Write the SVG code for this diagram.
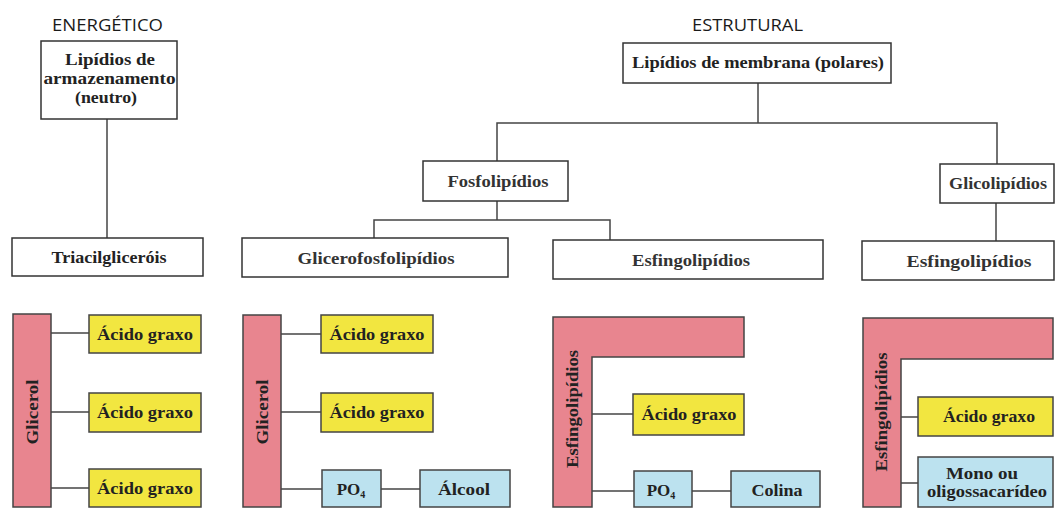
<svg xmlns="http://www.w3.org/2000/svg" width="1056" height="509" viewBox="0 0 1056 509">
  <style>
    .box { fill: #ffffff; stroke: #333333; stroke-width: 1.5; }
    .pink { fill: #e8858f; stroke: #444444; stroke-width: 1.5; }
    .yel { fill: #f2e640; stroke: #444444; stroke-width: 1.5; }
    .blue { fill: #bce2ef; stroke: #444444; stroke-width: 1.5; }
    .lbl { font-family: "Liberation Serif", "Times New Roman", serif; font-size: 17px; font-weight: bold; fill: #222222; text-anchor: middle; }
    .n { fill: #333333; }
    .sm { font-family: "Liberation Serif", "Times New Roman", serif; font-size: 17px; font-weight: bold; fill: #222222; text-anchor: middle; }
    .head { font-family: "Open Sans", "Liberation Sans", sans-serif; font-size: 16px; fill: #1a1a1a; text-anchor: middle; }
    .conn line, .conn polyline { stroke: #444444; stroke-width: 1.5; fill: none; }
  </style>

  <text class="head" x="107.5" y="31" textLength="111" lengthAdjust="spacingAndGlyphs">ENERGÉTICO</text>
  <text class="head" x="747.5" y="31" textLength="111" lengthAdjust="spacingAndGlyphs">ESTRUTURAL</text>

  <g class="conn" id="connectors">
    <line x1="107" y1="119" x2="107" y2="238"/>
    <line x1="758" y1="83" x2="758" y2="123"/>
    <polyline points="497,161 497,123 997,123 997,164"/>
    <line x1="497" y1="201" x2="497" y2="220"/>
    <polyline points="374,238 374,220 610,220 610,240"/>
    <line x1="996" y1="203" x2="996" y2="241"/>
    <line x1="51" y1="333" x2="89" y2="333"/>
    <line x1="51" y1="412" x2="89" y2="412"/>
    <line x1="51" y1="488" x2="89" y2="488"/>
    <line x1="281" y1="334" x2="321" y2="334"/>
    <line x1="281" y1="412" x2="321" y2="412"/>
    <line x1="281" y1="489" x2="322" y2="489"/>
    <line x1="381" y1="489" x2="420" y2="489"/>
    <line x1="592" y1="414" x2="633" y2="414"/>
    <line x1="592" y1="491" x2="634" y2="491"/>
    <line x1="692" y1="491" x2="731" y2="491"/>
    <line x1="901" y1="417" x2="918" y2="417"/>
    <line x1="901" y1="483" x2="918" y2="483"/>
  </g>

  <g id="armazenamento">
    <rect class="box" x="41" y="41" width="136" height="78"/>
    <text class="lbl" x="110" y="65" textLength="90" lengthAdjust="spacingAndGlyphs">Lipídios de</text>
    <text class="lbl" x="109.5" y="84" textLength="132" lengthAdjust="spacingAndGlyphs">armazenamento</text>
    <text class="lbl" x="106" y="103" textLength="62" lengthAdjust="spacingAndGlyphs">(neutro)</text>
  </g>
  <g id="membrana">
    <rect class="box" x="623" y="43" width="268" height="40"/>
    <text class="lbl" x="758" y="68" textLength="252" lengthAdjust="spacingAndGlyphs">Lipídios de membrana (polares)</text>
  </g>
  <g id="fosfolipidios">
    <rect class="box" x="423" y="161" width="145" height="40"/>
    <text class="lbl n" x="498" y="187" textLength="101" lengthAdjust="spacingAndGlyphs">Fosfolipídios</text>
  </g>
  <g id="glicolipidios">
    <rect class="box" x="940" y="164" width="114" height="39"/>
    <text class="lbl n" x="998" y="189" textLength="98" lengthAdjust="spacingAndGlyphs">Glicolipídios</text>
  </g>
  <g id="triacilglicerois">
    <rect class="box" x="12" y="238" width="191" height="38"/>
    <text class="lbl" x="109" y="263" textLength="115" lengthAdjust="spacingAndGlyphs">Triacilgliceróis</text>
  </g>
  <g id="glicerofosfolipidios">
    <rect class="box" x="242" y="238" width="266" height="39"/>
    <text class="lbl n" x="376" y="264" textLength="157" lengthAdjust="spacingAndGlyphs">Glicerofosfolipídios</text>
  </g>
  <g id="esfingolipidios1">
    <rect class="box" x="553" y="240" width="270" height="39"/>
    <text class="lbl n" x="691" y="266" textLength="118" lengthAdjust="spacingAndGlyphs">Esfingolipídios</text>
  </g>
  <g id="esfingolipidios2">
    <rect class="box" x="862" y="241" width="192" height="39"/>
    <text class="lbl n" x="969" y="267" textLength="125" lengthAdjust="spacingAndGlyphs">Esfingolipídios</text>
  </g>

  <g id="triacil-struct">
    <rect class="pink" x="13" y="314" width="38" height="193"/>
    <text class="sm" transform="translate(38,412) rotate(-90)" textLength="65" lengthAdjust="spacingAndGlyphs">Glicerol</text>
    <rect class="yel" x="89" y="315" width="112" height="38"/>
    <text class="sm" x="145" y="340" textLength="96" lengthAdjust="spacingAndGlyphs">Ácido graxo</text>
    <rect class="yel" x="89" y="393" width="112" height="39"/>
    <text class="sm" x="145" y="418" textLength="96" lengthAdjust="spacingAndGlyphs">Ácido graxo</text>
    <rect class="yel" x="89" y="469" width="112" height="38"/>
    <text class="sm" x="145" y="494" textLength="96" lengthAdjust="spacingAndGlyphs">Ácido graxo</text>
  </g>

  <g id="glicerofosfo-struct">
    <rect class="pink" x="243" y="315" width="38" height="192"/>
    <text class="sm" transform="translate(268,412) rotate(-90)" textLength="65" lengthAdjust="spacingAndGlyphs">Glicerol</text>
    <rect class="yel" x="321" y="315" width="112" height="38"/>
    <text class="sm" x="377" y="340" textLength="95" lengthAdjust="spacingAndGlyphs">Ácido graxo</text>
    <rect class="yel" x="321" y="393" width="112" height="39"/>
    <text class="sm" x="377" y="418" textLength="95" lengthAdjust="spacingAndGlyphs">Ácido graxo</text>
    <rect class="blue" x="322" y="470" width="59" height="37"/>
    <text class="sm" x="351" y="495">PO<tspan font-size="10" dy="3">4</tspan></text>
    <rect class="blue" x="420" y="470" width="90" height="37"/>
    <text class="sm" x="464" y="495" textLength="52" lengthAdjust="spacingAndGlyphs">Álcool</text>
  </g>

  <g id="esfingo-struct">
    <path class="pink" d="M553,507 L553,317 L744,317 L744,357 L592,357 L592,507 Z"/>
    <text class="sm" transform="translate(578,409) rotate(-90)" textLength="118" lengthAdjust="spacingAndGlyphs">Esfingolipídios</text>
    <rect class="yel" x="633" y="394" width="111" height="41"/>
    <text class="sm" x="689" y="420" textLength="95" lengthAdjust="spacingAndGlyphs">Ácido graxo</text>
    <rect class="blue" x="634" y="471" width="58" height="36"/>
    <text class="sm" x="661" y="496">PO<tspan font-size="10" dy="3">4</tspan></text>
    <rect class="blue" x="731" y="471" width="89" height="36"/>
    <text class="sm" x="777" y="496" textLength="51" lengthAdjust="spacingAndGlyphs">Colina</text>
  </g>

  <g id="glicolipidio-struct">
    <path class="pink" d="M863,507 L863,318 L1053,318 L1053,359 L901,359 L901,507 Z"/>
    <text class="sm" transform="translate(887,412) rotate(-90)" textLength="119" lengthAdjust="spacingAndGlyphs">Esfingolipídios</text>
    <rect class="yel" x="918" y="397" width="135" height="39"/>
    <text class="sm" x="989" y="422" textLength="92" lengthAdjust="spacingAndGlyphs">Ácido graxo</text>
    <rect class="blue" x="918" y="457" width="135" height="50"/>
    <text class="sm" x="982" y="479" textLength="72" lengthAdjust="spacingAndGlyphs">Mono ou</text>
    <text class="sm" x="987" y="497" textLength="120" lengthAdjust="spacingAndGlyphs">oligossacarídeo</text>
  </g>
</svg>
